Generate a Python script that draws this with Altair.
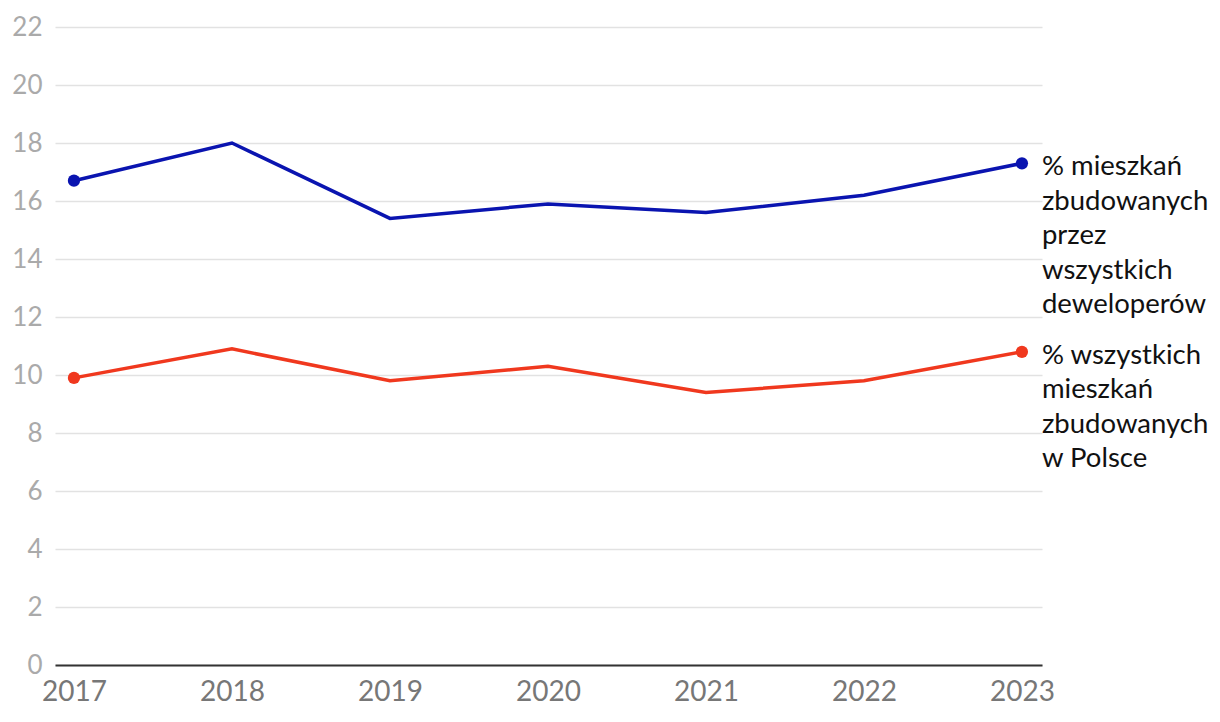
import altair as alt
import pandas as pd

years = [2017, 2018, 2019, 2020, 2021, 2022, 2023]
developers = [16.7, 18.0, 15.4, 15.9, 15.6, 16.2, 17.3]
all_poland = [9.9, 10.9, 9.8, 10.3, 9.4, 9.8, 10.8]
series_names = ["% mieszkań zbudowanych przez wszystkich deweloperów",
                "% wszystkich mieszkań zbudowanych w Polsce"]
label_lines = [["% mieszkań", "zbudowanych", "przez", "wszystkich", "deweloperów"],
               ["% wszystkich", "mieszkań", "zbudowanych", "w Polsce"]]
colors = ["#0a14b0", "#f0381e"]
y_ticks = list(range(0, 23, 2))

rows = []
for name, vals in zip(series_names, [developers, all_poland]):
    for yr, v in zip(years, vals):
        rows.append({"year": yr, "value": v, "series": name})
df = pd.DataFrame(rows)

ends = df[df["year"].isin([years[0], years[-1]])]
labels_df = pd.DataFrame({
    "year": [years[-1], years[-1]],
    "value": [developers[-1], all_poland[-1]],
    "series": series_names,
    "label": label_lines,
})

FONT = "Lato"
x_scale = alt.Scale(domain=[2016.88, 2023.127], nice=False, zero=False)
y_scale = alt.Scale(domain=[0, 22], nice=False)
color_scale = alt.Scale(domain=series_names, range=colors)

x_enc = alt.X("year:Q", scale=x_scale, axis=alt.Axis(
    values=years, format="d", title=None, grid=False, ticks=False,
    domain=True, domainColor="#333333", domainWidth=2,
    labelFont=FONT, labelFontSize=28, labelColor="#777777", labelPadding=13,
    labelFlush=False))
y_enc = alt.Y("value:Q", scale=y_scale, axis=alt.Axis(
    values=y_ticks, title=None, grid=True, gridColor="#e2e2e2", gridWidth=1.5,
    ticks=False, domain=False, labelFont=FONT, labelFontSize=26,
    labelColor="#aaaaaa", labelPadding=13))

lines = alt.Chart(df).mark_line(strokeWidth=3.5).encode(
    x=x_enc, y=y_enc,
    color=alt.Color("series:N", scale=color_scale, legend=None))

points = alt.Chart(ends).mark_circle(size=150, opacity=1).encode(
    x=alt.X("year:Q", scale=x_scale),
    y=alt.Y("value:Q", scale=y_scale),
    color=alt.Color("series:N", scale=color_scale, legend=None))

texts = alt.Chart(labels_df).mark_text(
    align="left", baseline="top", dx=20, dy=-10, font=FONT, fontSize=27.5,
    lineHeight=34.5, color="#111111").encode(
    x=alt.X("year:Q", scale=x_scale),
    y=alt.Y("value:Q", scale=y_scale),
    text="label")

chart = alt.layer(lines, points, texts).properties(
    width=987, height=638,
    background="white",
    autosize=alt.AutoSizeParams(type="none"),
    padding={"left": 47, "top": 19, "right": 170, "bottom": 50},
).configure_view(strokeWidth=0, stroke=None)

chart.save("out.html", embed_options={"renderer": "svg", "actions": False})
